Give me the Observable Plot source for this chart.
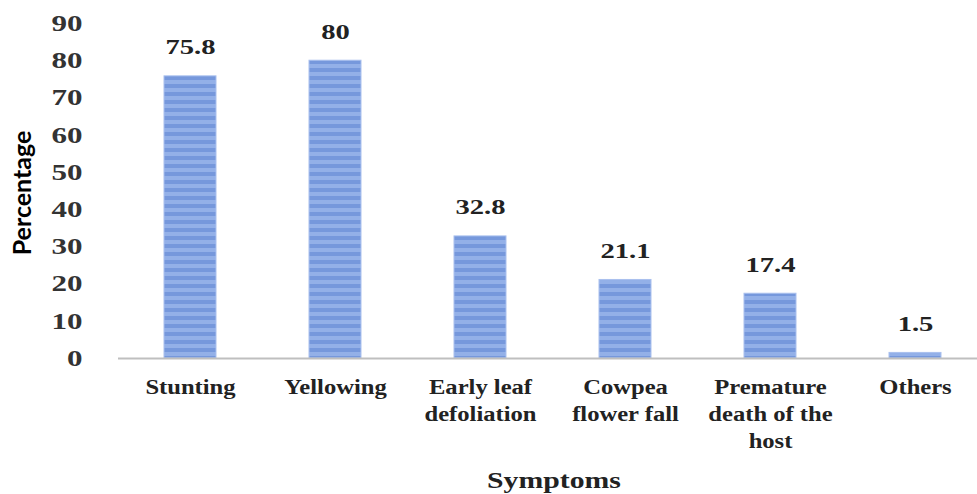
<!DOCTYPE html>
<html><head><meta charset="utf-8">
<script src="https://cdn.jsdelivr.net/npm/d3@7"></script>
<script src="https://cdn.jsdelivr.net/npm/@observablehq/plot@0.6"></script>
<style>
body{margin:0;background:#fff}
#chart svg text{font-family:"Liberation Serif","DejaVu Serif",serif !important;}
#chart svg text.ylab{font-family:Lato,"Liberation Sans",sans-serif !important;}
</style>
</head><body><div id="chart"></div>
<script>
const categories = ["Stunting", "Yellowing", "Early leaf\ndefoliation", "Cowpea\nflower fall", "Premature\ndeath of the\nhost", "Others"];
const values = [75.8, 80, 32.8, 21.1, 17.4, 1.5];
const yTicks = [0, 10, 20, 30, 40, 50, 60, 70, 80, 90];
const data = categories.map((c, i) => ({cat: c, value: values[i]}));

const defs = () => {
  const ns = "http://www.w3.org/2000/svg";
  const d = document.createElementNS(ns, "defs");
  d.innerHTML = `<pattern id="stripes" patternUnits="userSpaceOnUse" width="8" height="8">
    <rect width="8" height="8" fill="#7698dc"/>
    <rect y="0" width="8" height="4" fill="#93b0e8"/>
  </pattern>`;
  return d;
};

const chart = Plot.plot({
  width: 977, height: 494,
  marginLeft: 118, marginRight: 0, marginTop: 23, marginBottom: 136,
  style: {background: "#fff"},
  x: {domain: categories, range: [118, 988], paddingInner: 0.64, paddingOuter: 0.3, label: null},
  y: {domain: [0, 90], label: null},
  marks: [
    defs,
    Plot.barY(data, {x: "cat", y: "value", fill: "url(#stripes)", stroke: "#a9c0ee", strokeWidth: 1}),
    Plot.ruleY([0], {stroke: "#bfbfbf", strokeWidth: 2}),
    Plot.text(data, {x: "cat", y: "value", text: d => String(d.value), lineAnchor: "bottom", dy: -22, fontSize: 22, fontWeight: "bold", fill: "#222"}),
    Plot.axisY({ticks: yTicks, tickSize: 0, tickPadding: 27, fontSize: 23, fontWeight: "bold", fill: "#333", label: null}),
    Plot.axisX({tickSize: 0, tickPadding: 16, fontSize: 20.5, fontWeight: "bold", fill: "#222", lineHeight: 1.32, label: null})
  ]
});
document.getElementById("chart").appendChild(chart);
const svg = d3.select(chart);
const stretch = (sel, s, shift = 0) => sel.each(function() {
  const t = this.getAttribute("transform");
  if (t) this.setAttribute("transform", t + (shift ? ` translate(${shift},0)` : "") + ` scale(${s},1)`);
});
stretch(svg.selectAll("g[aria-label='y-axis tick label'] text"), 1.35, -9);
stretch(svg.selectAll("g[aria-label='x-axis tick label'] text"), 1.2);
stretch(svg.selectAll("g[aria-label='text'] text"), 1.3);
svg.append("text").attr("transform", "translate(554,488) scale(1.24,1)").attr("text-anchor", "middle")
  .style("font-size", "24px").style("font-weight", "bold").attr("fill", "#222").text("Symptoms");
svg.append("text").attr("class", "ylab").attr("transform", "translate(31,193) rotate(-90)").attr("text-anchor", "middle")
  .style("font-size", "25px").style("font-weight", "bold").attr("fill", "#000").text("Percentage");
</script>
</body></html>
